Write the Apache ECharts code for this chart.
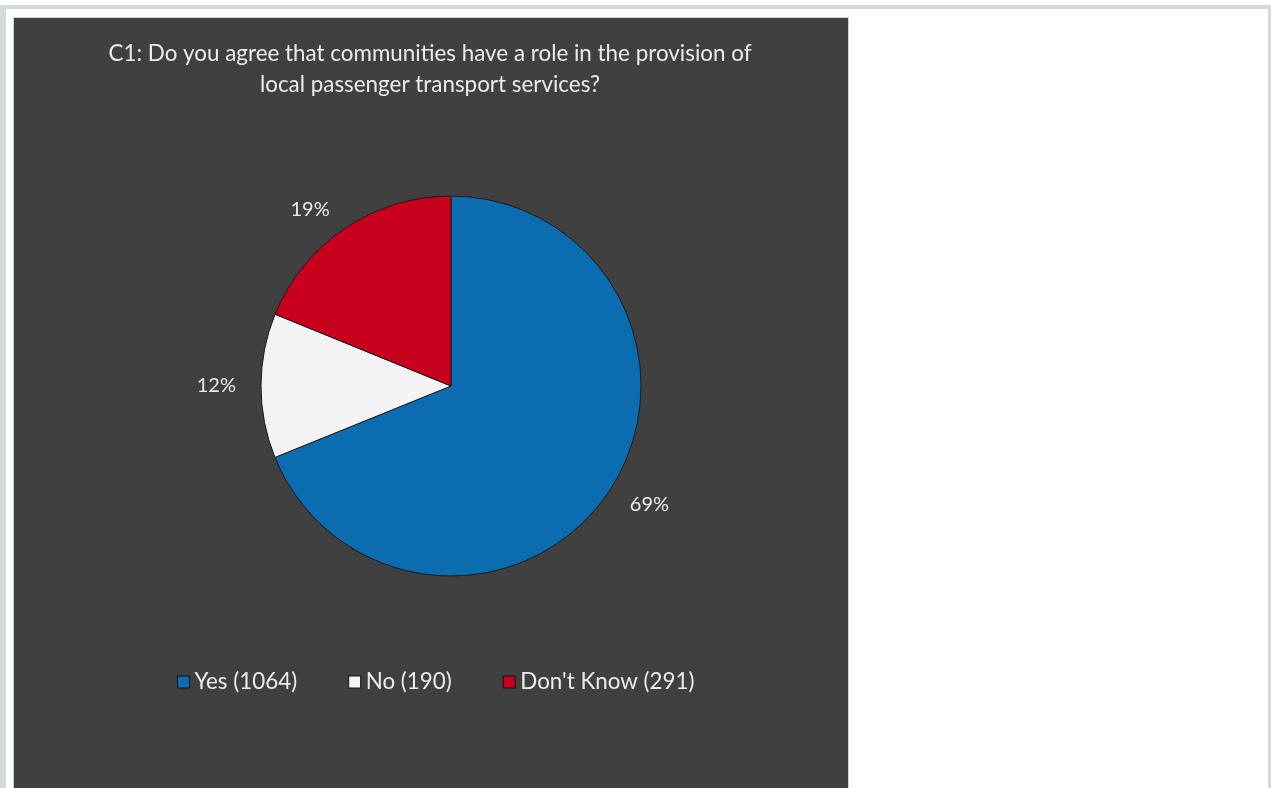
<!DOCTYPE html>
<html>
<head>
<meta charset="utf-8">
<title>C1: Community role in local passenger transport</title>
<script src="https://cdn.jsdelivr.net/npm/echarts@6/dist/echarts.min.js"></script>
<style>
  html, body { margin: 0; padding: 0; background: #ffffff; width: 1271px; height: 788px; overflow: hidden; }
  .frame-top { position: absolute; left: 0; top: 5px; width: 1271px; height: 4px; background: #d6d9dc; }
  .frame-left { position: absolute; left: 0; top: 5px; width: 6px; height: 783px; background: #d6d9dc; }
  .frame-right { position: absolute; left: 1268px; top: 5px; width: 3px; height: 783px; background: #d6d9dc; }
  #chart { position: absolute; left: 13px; top: 17px; width: 834px; height: 772px; border: 1px solid #cfcfcf; border-bottom: none; }
</style>
</head>
<body>
<div class="frame-top"></div>
<div class="frame-left"></div>
<div class="frame-right"></div>
<div id="chart"></div>
<script>
// Survey answers to question C1
const titleText = 'C1: Do you agree that communities have a role in the provision of\nlocal passenger transport services?';
const answers = ['Yes', 'No', "Don't Know"];
const counts = [1064, 190, 291];
const sliceColors = ['#0b6db0', '#f4f4f4', '#c8001e'];

const total = counts.reduce((a, b) => a + b, 0);
const legendNames = answers.map((a, i) => a + ' (' + counts[i] + ')');
const FONT = 'Lato, "Open Sans", sans-serif';

const chart = echarts.init(document.getElementById('chart'), null, { renderer: 'canvas' });

chart.setOption({
  backgroundColor: '#404040',
  animation: false,
  textStyle: { fontFamily: FONT },
  title: {
    text: titleText,
    left: 411,
    top: 15,
    textAlign: 'center',
    textStyle: {
      color: '#ececec',
      fontSize: 22.4,
      fontWeight: 'normal',
      lineHeight: 31,
      fontFamily: FONT
    }
  },
  legend: {
    data: legendNames,
    left: 158,
    top: 648,
    itemWidth: 12,
    itemHeight: 12,
    itemGap: 51,
    icon: 'rect',
    textStyle: { color: '#ececec', fontSize: 22.4, fontFamily: FONT },
    itemStyle: { borderColor: '#111111', borderWidth: 1 }
  },
  series: [{
    type: 'pie',
    center: [437, 368],
    radius: [0, 190],
    startAngle: 90,
    clockwise: true,
    avoidLabelOverlap: false,
    emphasis: { disabled: true },
    itemStyle: { borderColor: '#1a1a1a', borderWidth: 1 },
    label: {
      show: true,
      position: 'outside',
      distanceToLabelLine: 3,
      color: '#ececec',
      fontSize: 20,
      fontFamily: FONT,
      formatter: p => Math.round(p.value / total * 100) + '%'
    },
    labelLine: { show: false, length: 22, length2: 0 },
    data: answers.map((a, i) => ({
      name: legendNames[i],
      value: counts[i],
      itemStyle: { color: sliceColors[i] }
    }))
  }]
});
</script>
</body>
</html>
